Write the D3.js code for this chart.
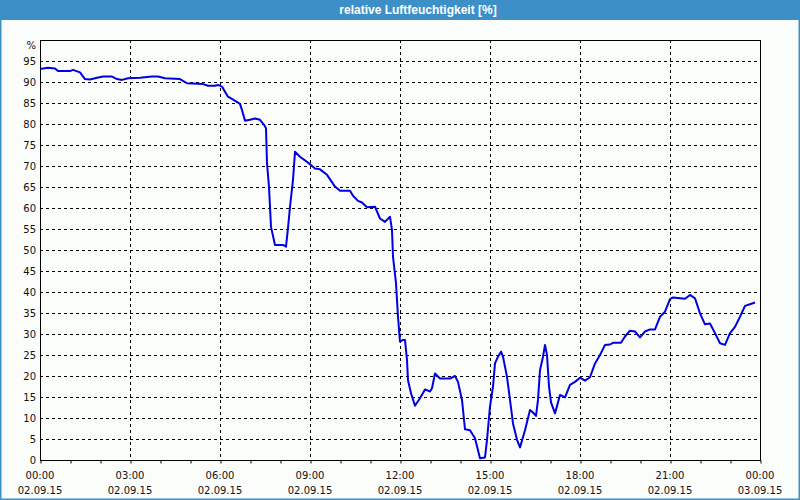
<!DOCTYPE html>
<html>
<head>
<meta charset="utf-8">
<script src="https://cdn.jsdelivr.net/npm/d3@7"></script>
<style>
  body { margin: 0; background: #fff; }
  svg { display: block; }
</style>
</head>
<body>
<script>
// relative humidity, 02.09.15 (one reading per point)
var TITLE = "relative Luftfeuchtigkeit [%]";
var DAY = "2015-09-02";

var times = [
  "00:00","00:16","00:30","00:36","01:00","01:06","01:20","01:30","01:40","01:54",
  "02:06","02:24","02:34","02:44","02:56","03:20","03:44","03:56","04:10","04:40",
  "04:54","05:26","05:36","05:50","05:56","06:04","06:16","06:28","06:40","06:44",
  "06:50","07:00","07:10","07:20","07:28","07:32","07:34","07:38","07:42","07:50",
  "08:06","08:12","08:16","08:20","08:26","08:30","08:40","08:56","09:10","09:20",
  "09:34","09:50","10:00","10:20","10:26","10:36","10:44","10:54","11:10","11:20",
  "11:30","11:40","11:44","11:46","11:52","11:56","12:00","12:06","12:10","12:14",
  "12:16","12:22","12:30","12:40","12:50","13:00","13:04","13:10","13:20","13:40",
  "13:50","13:56","14:04","14:10","14:20","14:30","14:40","14:50","14:54","15:00",
  "15:06","15:10","15:16","15:22","15:26","15:34","15:40","15:46","15:54","16:00",
  "16:10","16:20","16:26","16:32","16:36","16:40","16:46","16:50","16:54","16:58",
  "17:02","17:10","17:20","17:30","17:40","17:50","18:00","18:10","18:20","18:30",
  "18:40","18:50","19:00","19:06","19:22","19:30","19:40","19:50","20:00","20:10",
  "20:20","20:30","20:40","20:50","21:00","21:06","21:30","21:40","21:50","22:00",
  "22:10","22:20","22:30","22:40","22:50","23:00","23:10","23:20","23:30","23:40",
  "23:50"
];

var humidity = [
  93.1, 93.4, 93.2, 92.6, 92.6, 92.9, 92.3, 90.7, 90.6, 91.0,
  91.3, 91.3, 90.7, 90.5, 90.9, 91.0, 91.3, 91.3, 90.9, 90.7,
  89.7, 89.5, 89.1, 89.1, 89.3, 88.9, 86.5, 85.7, 84.8, 83.3,
  80.8, 81.0, 81.3, 81.0, 79.8, 79.0, 70.7, 65.0, 55.5, 51.2,
  51.2, 50.8, 55.2, 60.3, 66.7, 73.4, 72.2, 70.8, 69.4, 69.2,
  67.9, 65.1, 64.1, 64.1, 62.9, 61.7, 61.3, 60.2, 60.3, 57.5,
  56.7, 57.9, 54.8, 48.4, 42.1, 34.1, 28.2, 28.6, 28.6, 23.8,
  19.0, 15.9, 12.9, 14.7, 16.8, 16.3, 17.1, 20.6, 19.4, 19.4,
  20.0, 18.6, 14.3, 7.3, 7.1, 5.2, 0.4, 0.6, 4.8, 12.7,
  17.5, 23.0, 24.6, 25.8, 24.6, 19.8, 14.3, 8.7, 4.8, 3.0,
  7.1, 11.9, 11.3, 10.5, 14.3, 21.4, 24.6, 27.4, 25.0, 17.5,
  13.7, 11.1, 15.5, 14.9, 17.9, 18.6, 19.6, 18.9, 19.7, 23.0,
  25.0, 27.4, 27.5, 27.9, 27.9, 29.4, 30.8, 30.6, 29.2, 30.6,
  31.1, 31.1, 34.1, 35.3, 38.3, 38.7, 38.4, 39.3, 38.5, 34.9,
  32.3, 32.5, 30.2, 27.8, 27.4, 30.2, 31.7, 34.1, 36.7, 37.1,
  37.5
];

var yTicks = [0, 5, 10, 15, 20, 25, 30, 35, 40, 45, 50, 55, 60, 65, 70, 75, 80, 85, 90, 95];
var yUnit = "%";

var WIDTH = 800, HEIGHT = 500;
var PLOT_LEFT = 40, PLOT_RIGHT = 760, PLOT_TOP = 40, PLOT_BOTTOM = 460;

var FRAME_BLUE = "#3d8fc7";
var BACKGROUND_COLOR = "#fbfdfb";
var LINE_COLOR = "#0000e0";
var FONT = "'DejaVu Sans', Verdana, sans-serif";

var parseTime = d3.timeParse("%Y-%m-%d %H:%M");
var fmtTime = d3.timeFormat("%H:%M");
var fmtDate = d3.timeFormat("%d.%m.%y");

var data = times.map(function(t, i) {
  return { date: parseTime(DAY + " " + t), value: humidity[i] };
});

var start = parseTime(DAY + " 00:00");
var end = d3.timeDay.offset(start, 1);

var x = d3.scaleTime().domain([start, end]).range([PLOT_LEFT, PLOT_RIGHT]);
var y = d3.scaleLinear().domain([0, 100]).range([PLOT_BOTTOM, PLOT_TOP]);

var svg = d3.select("body").append("svg")
    .attr("width", WIDTH)
    .attr("height", HEIGHT);

// frame + title bar
svg.append("rect")
    .attr("x", 0.5).attr("y", 0.5)
    .attr("width", WIDTH - 1).attr("height", HEIGHT - 1)
    .attr("fill", BACKGROUND_COLOR)
    .attr("stroke", FRAME_BLUE)
    .attr("stroke-width", 2);

svg.append("rect")
    .attr("x", 0).attr("y", 0)
    .attr("width", WIDTH).attr("height", 20)
    .attr("fill", FRAME_BLUE);

svg.append("text")
    .attr("x", 418).attr("y", 14)
    .attr("text-anchor", "middle")
    .attr("fill", "#fff")
    .style("font-family", "'Liberation Sans', Arial, sans-serif")
    .style("font-weight", "bold")
    .style("font-size", "12px")
    .text(TITLE);

// horizontal grid
svg.append("g")
    .selectAll("line")
    .data(yTicks.filter(function(v) { return v > 0; }))
    .join("line")
    .attr("x1", PLOT_LEFT).attr("x2", PLOT_RIGHT)
    .attr("y1", function(d) { return Math.round(y(d)) + 0.5; })
    .attr("y2", function(d) { return Math.round(y(d)) + 0.5; })
    .attr("stroke", "#000")
    .attr("stroke-dasharray", "3,3");

// vertical grid every 3 hours
var majorTicks = x.ticks(d3.timeHour.every(3));
svg.append("g")
    .selectAll("line")
    .data(majorTicks.filter(function(d) { return +d > +start && +d < +end; }))
    .join("line")
    .attr("x1", function(d) { return Math.round(x(d)) + 0.5; })
    .attr("x2", function(d) { return Math.round(x(d)) + 0.5; })
    .attr("y1", PLOT_TOP).attr("y2", PLOT_BOTTOM)
    .attr("stroke", "#000")
    .attr("stroke-dasharray", "3,3");

// data line
var line = d3.line()
    .x(function(d) { return x(d.date); })
    .y(function(d) { return y(d.value); });

svg.append("path")
    .datum(data)
    .attr("d", line)
    .attr("fill", "none")
    .attr("stroke", LINE_COLOR)
    .attr("stroke-width", 2)
    .attr("stroke-linejoin", "round");

// plot border
svg.append("rect")
    .attr("x", PLOT_LEFT + 0.5).attr("y", PLOT_TOP + 0.5)
    .attr("width", PLOT_RIGHT - PLOT_LEFT).attr("height", PLOT_BOTTOM - PLOT_TOP)
    .attr("fill", "none")
    .attr("stroke", "#000");

// bottom axis: hourly ticks, labels every 3 hours
var xAxis = svg.append("g")
    .attr("transform", "translate(0.5," + (PLOT_BOTTOM + 0.5) + ")")
    .call(d3.axisBottom(x)
      .ticks(d3.timeHour.every(1))
      .tickSize(3)
      .tickSizeOuter(0)
      .tickFormat(""));
xAxis.select(".domain").remove();

var xLabels = svg.append("g")
    .style("font-family", FONT)
    .style("font-size", "10px")
    .attr("fill", "#111")
    .attr("text-anchor", "middle")
    .selectAll("text")
    .data(majorTicks)
    .join("text")
    .attr("x", function(d) { return x(d); });
xLabels.append("tspan").attr("y", 479).text(function(d) { return fmtTime(d); });
xLabels.append("tspan").attr("x", function(d) { return x(d); }).attr("y", 494).text(function(d) { return fmtDate(d); });

// left axis labels
var yAxis = svg.append("g")
    .attr("transform", "translate(" + PLOT_LEFT + ",0)")
    .call(d3.axisLeft(y).tickValues(yTicks).tickSize(0).tickPadding(4));
yAxis.select(".domain").remove();
yAxis.selectAll("text")
    .style("font-family", FONT)
    .style("font-size", "10px")
    .attr("fill", "#111");

svg.append("text")
    .attr("x", PLOT_LEFT - 4).attr("y", 49)
    .attr("text-anchor", "end")
    .style("font-family", FONT)
    .style("font-size", "10px")
    .attr("fill", "#111")
    .text(yUnit);
</script>
</body>
</html>
